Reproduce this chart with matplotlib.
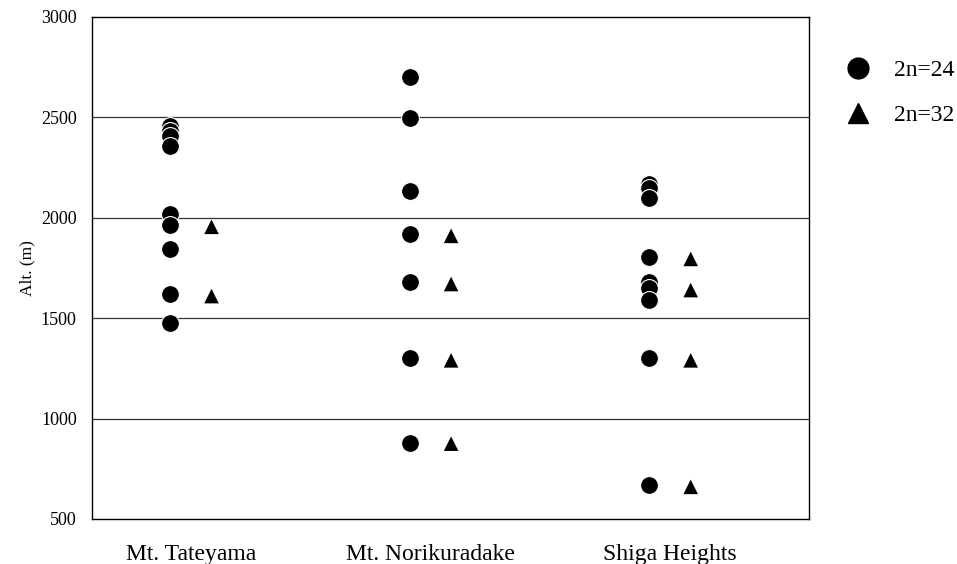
import matplotlib
matplotlib.use("Agg")
import matplotlib.pyplot as plt
from matplotlib.lines import Line2D

plt.rcParams['font.family'] = ['Liberation Serif', 'DejaVu Serif']

# altitude (m) of sampled populations, by site and chromosome number
sites = ['Mt. Tateyama', 'Mt. Norikuradake', 'Shiga Heights']
alt_24 = [
    [2455, 2430, 2405, 2355, 2020, 1965, 1845, 1620, 1475],
    [2700, 2495, 2135, 1920, 1680, 1300, 880],
    [2170, 2150, 2100, 1805, 1680, 1650, 1590, 1300, 670],
]
alt_32 = [
    [1955, 1610],
    [1910, 1670, 1290, 875],
    [1795, 1640, 1290, 660],
]
yticks = [500, 1000, 1500, 2000, 2500, 3000]

fig = plt.figure(figsize=(9.57, 5.64), dpi=100)
ax = fig.add_axes([0.0961, 0.0798, 0.7493, 0.8901])

off = 0.086
for i, (a24, a32) in enumerate(zip(alt_24, alt_32)):
    pos = i + 1
    for v in a24:
        ax.scatter([pos - off], [v], s=165, marker='o', c='black',
                   edgecolors='white', linewidths=0.8, zorder=3)
    ax.scatter([pos + off] * len(a32), a32, s=110, marker='^', c='black',
               edgecolors='none', zorder=3)

ax.set_xlim(0.587, 3.58)
ax.set_ylim(500, 3000)
ax.set_yticks(yticks)
ax.set_xticks([1, 2, 3])
ax.set_xticklabels(sites, fontsize=17)
ax.tick_params(axis='y', length=0, pad=11, labelsize=13)
ax.tick_params(axis='x', length=0, pad=18)
for v in yticks[1:-1]:
    ax.axhline(v, color='#333333', lw=0.9, zorder=1)
for sp in ax.spines.values():
    sp.set_linewidth(1.0)
    sp.set_color('black')
ax.set_ylabel('Alt. (m)', fontsize=12.5)
ax.yaxis.set_label_coords(-0.079, 0.5)

handles = [
    Line2D([], [], marker='o', ls='none', color='black', markersize=15),
    Line2D([], [], marker='^', ls='none', color='black', markersize=15),
]
fig.legend(handles, ['2n=24', '2n=32'], loc='upper left',
           bbox_to_anchor=(0.872, 0.915), frameon=False, fontsize=17,
           handlelength=1.0, handletextpad=1.0, labelspacing=0.98,
           borderpad=0)

fig.savefig('out.png', dpi=100)
